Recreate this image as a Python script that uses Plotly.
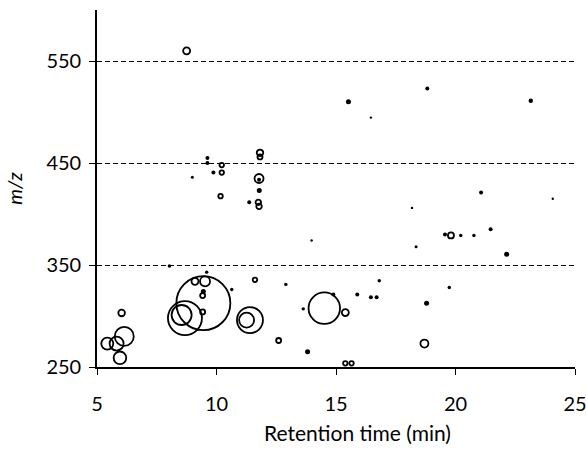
import numpy as np
import plotly.graph_objects as go

# Retention time (min)
retention_time = [6.03, 5.43, 5.82, 6.14, 5.96, 9.45, 8.68, 8.54, 9.10, 9.52,
                  9.45, 9.42, 9.42, 9.59, 10.64, 8.03, 11.61, 11.40, 11.26, 12.60,
                  12.90, 14.51, 14.89, 13.63, 15.39, 13.81, 15.39, 15.65, 15.89, 16.46,
                  16.70, 16.81, 15.52, 18.82, 16.46, 23.15, 21.07, 24.07, 18.18, 19.56,
                  19.81, 20.22, 20.77, 21.47, 22.14, 18.35, 19.74, 18.79, 18.70, 23.65,
                  8.75, 9.62, 9.62, 10.22, 8.99, 9.87, 10.22, 11.82, 11.82, 11.78,
                  11.78, 11.79, 10.17, 11.37, 11.75, 11.78, 13.98]
# m/z
mz = [303, 273, 273, 280, 259, 312.6, 298, 301, 334, 334,
      324, 320, 304, 343, 326, 349, 335.5, 296, 296, 276,
      331, 307.7, 321, 307, 303.4, 265, 253.6, 253.6, 321, 318.5,
      318.5, 334.5, 510, 523, 494.5, 511, 421, 415, 406, 380,
      379, 379, 379, 385, 360.6, 368, 328, 312.5, 273, 249,
      560, 455, 450, 448, 436, 440.6, 440.6, 460, 456, 434.8,
      433.5, 423, 417.5, 411.5, 411.5, 407.5, 374]
# relative abundance (arbitrary units, bubble area)
abundance = [44, 144, 196, 361, 160, 2916, 1156, 400, 49, 100,
             16, 25, 25, 6, 6, 6, 20, 676, 225, 25,
             6, 990, 9, 6, 49, 16, 20, 20, 9, 9,
             9, 6, 16, 9, 2, 12, 9, 2, 2, 9,
             36, 6, 6, 9, 16, 4, 6, 16, 64, 49,
             49, 9, 9, 20, 4, 9, 20, 42, 25, 81,
             9, 16, 20, 9, 30, 30, 2]

x_ticks = [5, 10, 15, 20, 25]
y_ticks = [250, 350, 450, 550]

ab = np.array(abundance, dtype=float)
rt = np.array(retention_time)
mzv = np.array(mz)
marker_size = np.sqrt(ab)
is_dot = ab <= 16

fig = go.Figure()
fig.add_trace(go.Scatter(
    x=rt[~is_dot], y=mzv[~is_dot], mode="markers",
    marker=dict(symbol="circle", size=marker_size[~is_dot], sizemode="diameter",
                color="rgba(0,0,0,0)", opacity=1,
                line=dict(width=1.8, color="#000000")),
    cliponaxis=False, showlegend=False, hoverinfo="x+y"))
fig.add_trace(go.Scatter(
    x=rt[is_dot], y=mzv[is_dot], mode="markers",
    marker=dict(symbol="circle", size=marker_size[is_dot] + 1, sizemode="diameter",
                color="#000000", opacity=1, line=dict(width=0)),
    cliponaxis=False, showlegend=False, hoverinfo="x+y"))

font_family = "Lato, Open Sans, sans-serif"
fig.update_layout(
    width=586, height=449,
    margin=dict(l=97, r=11, t=10, b=82),
    paper_bgcolor="white", plot_bgcolor="white",
    font=dict(family=font_family, size=20, color="black"),
    xaxis=dict(range=[5, 25], tickvals=x_ticks, showgrid=False, zeroline=False,
               automargin=False, ticklabeloverflow="allow",
               showline=True, linecolor="black", linewidth=1.6,
               ticks="outside", ticklen=6, tickwidth=1.3, tickcolor="black",
               ticklabelstandoff=12, tickfont=dict(size=20)),
    yaxis=dict(range=[250, 600], tickvals=y_ticks, zeroline=False,
               automargin=False, ticklabeloverflow="allow",
               showline=True, linecolor="black", linewidth=1.6,
               ticks="outside", ticklen=6, tickwidth=1.3, tickcolor="black",
               ticklabelstandoff=4, tickfont=dict(size=20),
               showgrid=True, gridcolor="black", gridwidth=1.4,
               griddash="5px,3px",
               title=dict(text="<i>m/z</i>", standoff=18, font=dict(size=20))),
    annotations=[dict(text="Retention time (min)", xref="paper", yref="paper",
                      x=0.544, y=0, yshift=-65, xanchor="center", yanchor="middle",
                      showarrow=False, font=dict(size=21))],
)

fig.write_html("out.html", post_script="document.body.style.margin='0';",
               config={"displayModeBar": False})
